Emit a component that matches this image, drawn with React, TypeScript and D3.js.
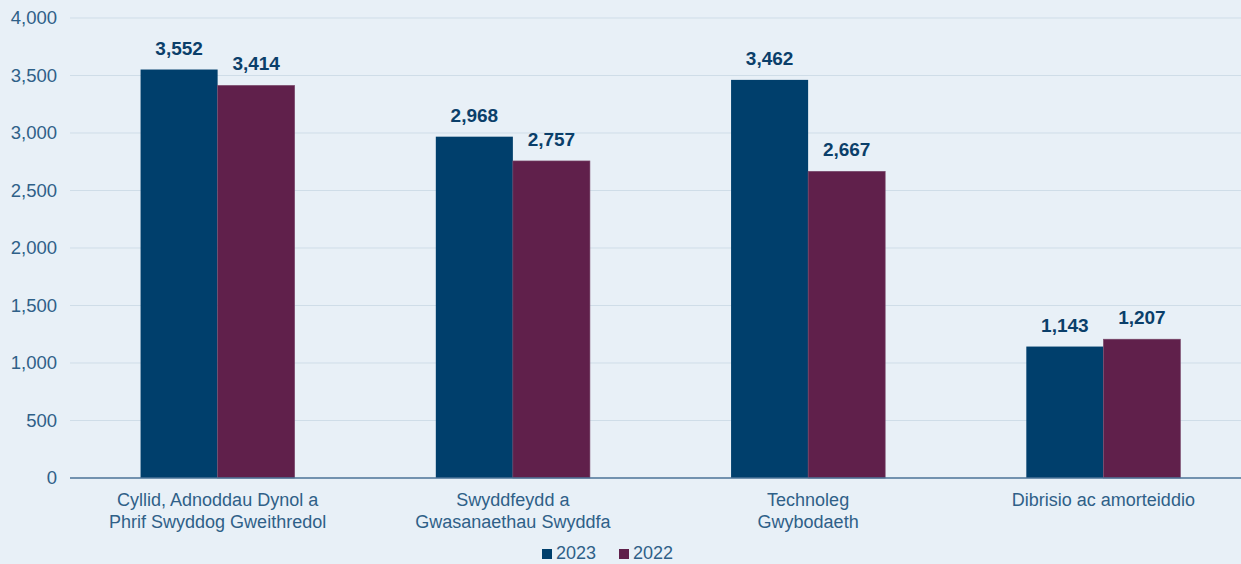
import React from 'react';
import * as d3 from 'd3';

// chart data
const categories: string[][] = [
    ['Cyllid, Adnoddau Dynol a', 'Phrif Swyddog Gweithredol'],
    ['Swyddfeydd a', 'Gwasanaethau Swyddfa'],
    ['Technoleg', 'Gwybodaeth'],
    ['Dibrisio ac amorteiddio'],
];
const series = ['2023', '2022'];
const values2023 = [3552, 2968, 3462, 1143];
const values2022 = [3414, 2757, 2667, 1207];
const yTicks = [0, 500, 1000, 1500, 2000, 2500, 3000, 3500, 4000];

const colors = ['#003f6c', '#60204b'];

const App: React.FC = () => {
    const width = 1241;
    const height = 564;
    const margin = { top: 18, right: -10, bottom: 86, left: 70 };

    const x0 = d3.scaleBand<number>()
        .domain(categories.map((_, i) => i))
        .range([margin.left, width - margin.right])
        .paddingInner(0.478)
        .paddingOuter(0.239);

    const x1 = d3.scaleBand<string>()
        .domain(series)
        .range([0, x0.bandwidth()]);

    const y = d3.scaleLinear()
        .domain([0, 4000])
        .range([height - margin.bottom, margin.top]);

    const fmt = d3.format(',');
    const allValues = [values2023, values2022];
    const font = 'Liberation Sans, Arial, Helvetica, sans-serif';
    const textColor = '#2f6088';

    return (
        <svg width={width} height={height} style={{ position: 'absolute', left: 0, top: 0 }} fontFamily={font}>
            <rect x={0} y={0} width={width} height={height} fill="#e8f0f7" />
            {/* grid + y labels */}
            {yTicks.map(t => (
                <g key={t}>
                    {t > 0 && <line x1={margin.left} x2={width} y1={y(t)} y2={y(t)} stroke="#cfdde8" strokeWidth={1} />}
                    <text x={57} y={y(t)} dy="0.35em" textAnchor="end" fontSize={18.5} fill={textColor}>{fmt(t)}</text>
                </g>
            ))}
            {/* bars */}
            {categories.map((_, i) => (
                <g key={i} transform={`translate(${x0(i)},0)`}>
                    {series.map((s, j) => {
                        const v = allValues[j][i];
                        return (
                            <g key={s}>
                                <rect x={x1(s)} y={y(v)} width={x1.bandwidth()} height={y(0) - y(v)} fill={colors[j]} stroke={j === 1 ? '#7a4a6c' : 'none'} strokeWidth={0.6} />
                                <text x={(x1(s) ?? 0) + x1.bandwidth() / 2} y={y(v) - 15} textAnchor="middle" fontSize={19} fontWeight="bold" fill="#0b3f6a">{fmt(v)}</text>
                            </g>
                        );
                    })}
                </g>
            ))}
            {/* x axis line */}
            <line x1={margin.left} x2={width} y1={y(0)} y2={y(0)} stroke="#4b7397" strokeWidth={1.5} />
            {/* category labels */}
            {categories.map((lines, i) => (
                <text key={i} x={(x0(i) ?? 0) + x0.bandwidth() / 2} y={y(0) + 28} textAnchor="middle" fontSize={18} fill={textColor}>
                    {lines.map((l, k) => (
                        <tspan key={k} x={(x0(i) ?? 0) + x0.bandwidth() / 2} dy={k === 0 ? 0 : 22}>{l}</tspan>
                    ))}
                </text>
            ))}
            {/* legend */}
            {series.map((s, j) => (
                <g key={s} transform={`translate(${542 + j * 77},0)`}>
                    <rect x={0} y={549} width={10} height={10} fill={colors[j]} />
                    <text x={14} y={559} fontSize={18} fill={textColor}>{s}</text>
                </g>
            ))}
        </svg>
    );
};

export default App;
